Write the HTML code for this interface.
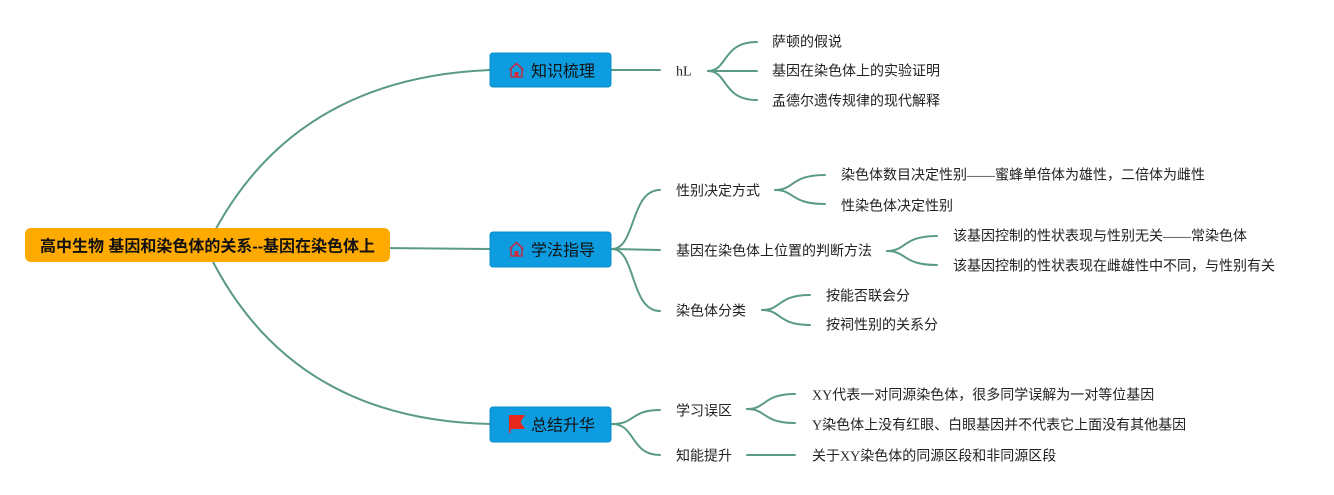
<!DOCTYPE html>
<html>
<head>
<meta charset="utf-8">
<style>
  html,body{margin:0;padding:0;background:#fff;}
  svg{display:block;}
  .t{font-family:"Liberation Serif","Noto Sans CJK SC",sans-serif;font-size:14px;fill:#222;}
  .m{font-family:"Liberation Sans","Noto Sans CJK SC",sans-serif;font-size:16px;fill:#111;}
  .r{font-family:"Liberation Sans","Noto Sans CJK SC",sans-serif;font-size:16px;font-weight:bold;fill:#111;}
</style>
</head>
<body>
<svg width="1334" height="495" viewBox="0 0 1334 495" xmlns="http://www.w3.org/2000/svg">
  <g fill="none" stroke="#5b9a85" stroke-width="2" stroke-linecap="round">
    <path d="M210 240 Q 292 78 490 70"/>
    <path d="M210 256 Q 292 420 490 424"/>
    <path d="M380 248 L 490 249"/>
    <path d="M610 70 L 660 70"/>
    <path d="M708 71 C 728 71, 722 42, 757 42"/>
    <path d="M708 71 L 757 71"/>
    <path d="M708 71 C 728 71, 722 100, 757 100"/>
    <path d="M612 249 C 636 249, 630 190, 660 190"/>
    <path d="M612 249 L 660 250"/>
    <path d="M612 249 C 636 249, 630 311, 660 311"/>
    <path d="M775 190 C 795 190, 790 175, 825 175"/>
    <path d="M775 190 C 795 190, 790 204, 825 204"/>
    <path d="M887 251 C 907 251, 902 236, 937 236"/>
    <path d="M887 251 C 907 251, 902 265, 937 265"/>
    <path d="M762 310 C 782 310, 777 295, 810 295"/>
    <path d="M762 310 C 782 310, 777 325, 810 325"/>
    <path d="M612 424 C 636 424, 630 410, 660 410"/>
    <path d="M612 424 C 636 424, 630 455, 660 455"/>
    <path d="M747 409 C 767 409, 762 394, 795 394"/>
    <path d="M747 409 C 767 409, 762 423, 795 423"/>
    <path d="M747 455 L 795 455"/>
  </g>

  <rect x="25" y="228" width="365" height="34" rx="6" fill="#FEAA00"/>
  <text class="r" x="207.5" y="247" text-anchor="middle" dominant-baseline="central">高中生物 基因和染色体的关系--基因在染色体上</text>

  <rect x="490" y="53" width="121" height="34" rx="3" fill="#0C9CDF" stroke="#0A8CC8" stroke-width="1"/>
  <rect x="490" y="232" width="121" height="35" rx="3" fill="#0C9CDF" stroke="#0A8CC8" stroke-width="1"/>
  <rect x="490" y="407" width="121" height="35" rx="3" fill="#0C9CDF" stroke="#0A8CC8" stroke-width="1"/>

  <g transform="translate(508,62)">
    <path d="M1.5 8 L8.5 1.5 L15.5 8 M3 6.8 V15 H14 V6.8" fill="none" stroke="#B8304E" stroke-width="1.6" stroke-linejoin="round"/>
    <rect x="6.5" y="10" width="4" height="5" fill="#D42A3E"/>
  </g>
  <text class="m" x="531" y="72" dominant-baseline="central">知识梳理</text>

  <g transform="translate(508,241)">
    <path d="M1.5 8 L8.5 1.5 L15.5 8 M3 6.8 V15 H14 V6.8" fill="none" stroke="#B8304E" stroke-width="1.6" stroke-linejoin="round"/>
    <rect x="6.5" y="10" width="4" height="5" fill="#D42A3E"/>
  </g>
  <text class="m" x="531" y="251" dominant-baseline="central">学法指导</text>

  <g transform="translate(508,415)">
    <path d="M1 0 H17 L12.5 7 L17 14 H2.5 V18 H1 Z" fill="#E8281C"/>
  </g>
  <text class="m" x="531" y="426" dominant-baseline="central">总结升华</text>

  <text class="t" x="676" y="72" dominant-baseline="central">hL</text>
  <text class="t" x="772" y="43" dominant-baseline="central">萨顿的假说</text>
  <text class="t" x="772" y="72" dominant-baseline="central">基因在染色体上的实验证明</text>
  <text class="t" x="772" y="102" dominant-baseline="central">孟德尔遗传规律的现代解释</text>

  <text class="t" x="676" y="192" dominant-baseline="central">性别决定方式</text>
  <text class="t" x="841" y="176" dominant-baseline="central">染色体数目决定性别——蜜蜂单倍体为雄性，二倍体为雌性</text>
  <text class="t" x="841" y="207" dominant-baseline="central">性染色体决定性别</text>

  <text class="t" x="676" y="252" dominant-baseline="central">基因在染色体上位置的判断方法</text>
  <text class="t" x="953" y="237" dominant-baseline="central">该基因控制的性状表现与性别无关——常染色体</text>
  <text class="t" x="953" y="267" dominant-baseline="central">该基因控制的性状表现在雌雄性中不同，与性别有关</text>

  <text class="t" x="676" y="312" dominant-baseline="central">染色体分类</text>
  <text class="t" x="826" y="297" dominant-baseline="central">按能否联会分</text>
  <text class="t" x="826" y="326" dominant-baseline="central">按祠性别的关系分</text>

  <text class="t" x="676" y="412" dominant-baseline="central">学习误区</text>
  <text class="t" x="812" y="396" dominant-baseline="central">XY代表一对同源染色体，很多同学误解为一对等位基因</text>
  <text class="t" x="812" y="426" dominant-baseline="central">Y染色体上没有红眼、白眼基因并不代表它上面没有其他基因</text>

  <text class="t" x="676" y="457" dominant-baseline="central">知能提升</text>
  <text class="t" x="812" y="457" dominant-baseline="central">关于XY染色体的同源区段和非同源区段</text>
</svg>
</body>
</html>
